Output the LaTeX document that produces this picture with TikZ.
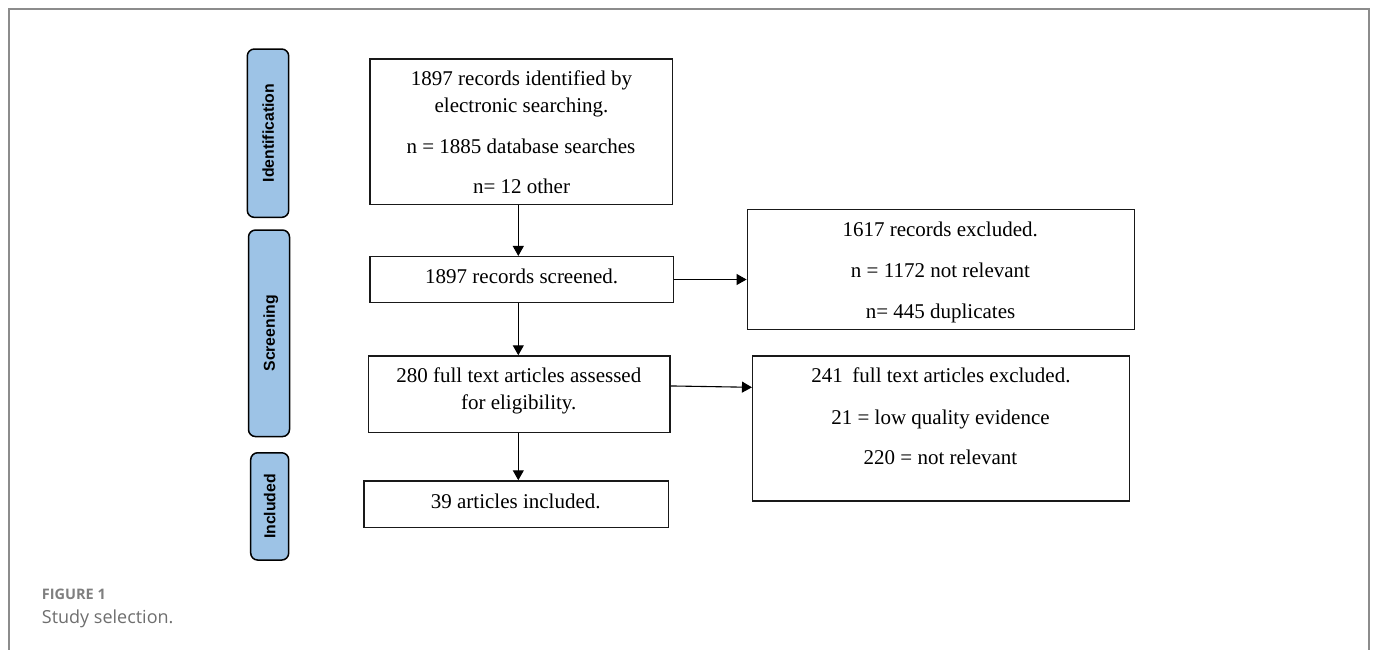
\documentclass[tikz,border=0pt]{standalone}
\usepackage{fontspec}
\setmainfont{Liberation Serif}
\newfontfamily\tabfont{Liberation Sans}
\newfontfamily\capfont{Open Sans}
\usetikzlibrary{arrows.meta}
\definecolor{tabblue}{HTML}{9DC3E6}
\definecolor{framegray}{HTML}{8C8C8C}
\definecolor{capgray}{HTML}{7F7F7F}
\definecolor{capgrayb}{HTML}{6E6E6E}
\begin{document}
\begin{tikzpicture}[x=1pt,y=-1pt,
  box/.style={draw=black!90, line width=1.5pt, inner sep=0pt},
  boxtxt/.style={anchor=base, inner sep=0pt, font=\fontsize{21}{25}\selectfont},
  stage/.style={draw=black, line width=1.5pt, fill=tabblue, rounded corners=7pt, rotate=90,
    inner sep=0pt, text height=11.5pt, text depth=0pt,
    font=\tabfont\bfseries\fontsize{15.8}{18}\selectfont},
  arr/.style={line width=1.1pt, -{Triangle[length=10pt,width=11pt]}},
  captxt/.style={anchor=base west, inner sep=0pt}
]
\useasboundingbox (0,0) rectangle (1373,650);
% outer frame (open at the bottom)
\draw[framegray, line width=1.8pt] (9,650) -- (9,9) -- (1368.7,9) -- (1368.7,650);

% stage tabs
\node[stage, minimum width=168.3pt, minimum height=41.4pt] (tid) at (268,133.2) {Identification};
\node[stage, minimum width=206.5pt, minimum height=41pt] (tsc) at (269,333.3) {Screening};
\node[stage, minimum width=107.3pt, minimum height=38pt] (tin) at (269.7,506.4) {Included};

% flow boxes
\node[box, minimum width=302.7pt, minimum height=145.3pt] (A) at (521.35,131.65) {};
\node[box, minimum width=303.3pt, minimum height=45.6pt] (B) at (521.65,279.5) {};
\node[box, minimum width=301.7pt, minimum height=76.3pt] (C) at (519.15,394.15) {};
\node[box, minimum width=304.3pt, minimum height=46.7pt] (D) at (516.15,504.35) {};
\node[box, minimum width=387pt, minimum height=120pt] (E) at (940.8,269.3) {};
\node[box, minimum width=376.6pt, minimum height=145pt] (F) at (941,428.5) {};

% texts
\node[boxtxt] (a1) at (521.5,86) {1897 records identified by};
\node[boxtxt] (a2) at (521.5,112.3) {electronic searching.};
\node[boxtxt] (a3) at (521,153.3) {n = 1885 database searches};
\node[boxtxt] (a4) at (521.5,193.3) {n= 12 other};
\node[boxtxt] (b1) at (521.7,283.3) {1897 records screened.};
\node[boxtxt] (c1) at (518.8,382.7) {280 full text articles assessed};
\node[boxtxt] (c2) at (518.7,409.3) {for eligibility.};
\node[boxtxt] (d1) at (515.7,508.3) {39 articles included.};
\node[boxtxt] (e1) at (940.2,236.7) {1617 records excluded.};
\node[boxtxt] (e2) at (940.5,277.3) {n = 1172 not relevant};
\node[boxtxt] (e3) at (940.5,318.3) {n= 445 duplicates};
\node[boxtxt] (f1) at (941,382.7) {241\hspace{0.45em}full text articles excluded.};
\node[boxtxt] (f2) at (940.5,424) {21 = low quality evidence};
\node[boxtxt] (f3) at (940.5,464) {220 = not relevant};

% connectors
\coordinate (ax) at (518.3,0);
\draw[arr] (A.south -| ax) -- (B.north -| ax);
\draw[arr] (B.south -| ax) -- (C.north -| ax);
\draw[arr] (C.south -| ax) -- (D.north -| ax);
\draw[arr] (B.east) -- (B.east -| E.west);
\draw[arr] ([yshift=8.2pt]C.east) -- ([yshift=41.2pt]F.west);

% caption
\node[captxt, text=capgray, font=\capfont\bfseries\fontsize{14.5}{16}\selectfont] (cap1) at (41.7,599.3) {FIGURE 1};
\node[captxt, text=capgrayb, font=\capfont\fontsize{18}{21}\selectfont] (cap2) at (41.7,623.3) {Study selection.};
\end{tikzpicture}
\end{document}
